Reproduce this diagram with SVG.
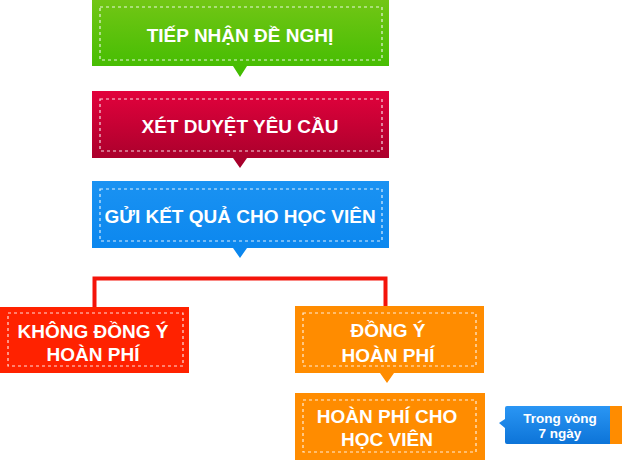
<svg xmlns="http://www.w3.org/2000/svg" width="624" height="460" viewBox="0 0 624 460">
<defs>
<linearGradient id="gGreen" x1="0" y1="0" x2="0" y2="1"><stop offset="0" stop-color="#72c615"/><stop offset="1" stop-color="#40bc00"/></linearGradient>
<linearGradient id="gRed" x1="0" y1="0" x2="0" y2="1"><stop offset="0" stop-color="#e2023c"/><stop offset="1" stop-color="#a3002a"/></linearGradient>
<linearGradient id="gBlue" x1="0" y1="0" x2="0" y2="1"><stop offset="0" stop-color="#1a92f2"/><stop offset="1" stop-color="#0a86ee"/></linearGradient>
<linearGradient id="gCall" x1="0" y1="0" x2="0" y2="1"><stop offset="0" stop-color="#2a96f4"/><stop offset="1" stop-color="#0d74d8"/></linearGradient>
</defs>
<style>
.dash{fill:none;stroke:#ffffff;stroke-width:1.2;stroke-dasharray:3 3;opacity:0.85}
.t{font-family:"Liberation Sans","Arial",sans-serif;font-weight:bold;font-size:19px;fill:#ffffff;text-anchor:middle}
.s{font-family:"Liberation Sans","Arial",sans-serif;font-weight:bold;font-size:13.5px;fill:#ffffff;text-anchor:middle}
.conn{fill:none;stroke:#f4140a;stroke-width:4}
</style>
<g id="connectors">
<polyline class="conn" points="94.5,307 94.5,278.5 385.5,278.5 385.5,307"/>
</g>
<g id="n1">
<path d="M92,0 H389 V66 H247 L240,77 L233,66 H92 Z" fill="url(#gGreen)"/>
<rect class="dash" x="100" y="7" width="282" height="53"/>
<text class="t" x="240" y="42">TIẾP NHẬN ĐỀ NGHỊ</text>
</g>
<g id="n2">
<path d="M92,91 H389 V158 H247 L240,168 L233,158 H92 Z" fill="url(#gRed)"/>
<rect class="dash" x="100" y="99" width="282" height="52"/>
<text class="t" x="240" y="133">XÉT DUYỆT YÊU CẦU</text>
</g>
<g id="n3">
<path d="M92,181 H389 V248 H247 L240,258 L233,248 H92 Z" fill="url(#gBlue)"/>
<rect class="dash" x="100" y="189" width="282" height="52"/>
<text class="t" x="240" y="223">GỬI KẾT QUẢ CHO HỌC VIÊN</text>
</g>
<g id="n4">
<rect x="0" y="307" width="189" height="66" fill="#ff2200"/>
<rect class="dash" x="8" y="313" width="175" height="53"/>
<text class="t" x="93" y="338">KHÔNG ĐỒNG Ý</text>
<text class="t" x="93" y="361">HOÀN PHÍ</text>
</g>
<g id="n5">
<path d="M295,306 H484 V373 H394 L387,383 L380,373 H295 Z" fill="#ff8c00"/>
<rect class="dash" x="303" y="313" width="173" height="53"/>
<text class="t" x="388" y="337">ĐỒNG Ý</text>
<text class="t" x="388" y="362">HOÀN PHÍ</text>
</g>
<g id="n6">
<rect x="295" y="393" width="190" height="67" fill="#ff8c00"/>
<rect class="dash" x="303" y="400" width="173" height="52"/>
<text class="t" x="387" y="423">HOÀN PHÍ CHO</text>
<text class="t" x="387" y="446">HỌC VIÊN</text>
</g>
<g id="n7">
<rect x="609" y="406" width="13" height="38" fill="#ff8c00"/>
<path d="M507,406 H610 V444 H507 Q505,444 505,442 V428 L499,423 L505,419 V408 Q505,406 507,406 Z" fill="url(#gCall)"/>
<text class="s" x="560" y="423">Trong vòng</text>
<text class="s" x="560" y="438">7 ngày</text>
</g>
</svg>
